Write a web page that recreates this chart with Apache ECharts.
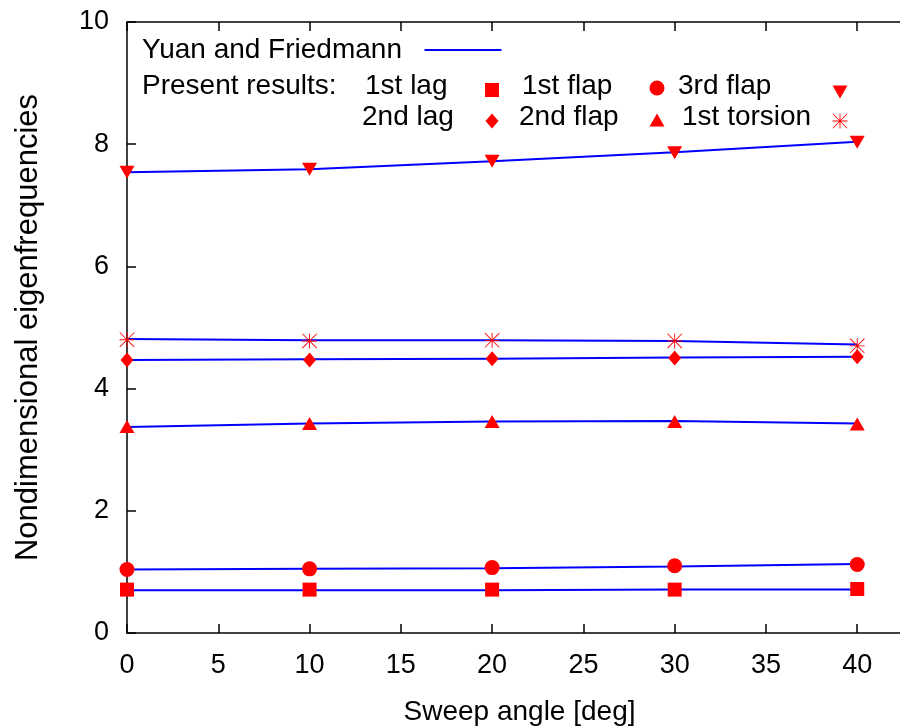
<!DOCTYPE html>
<html>
<head>
<meta charset="utf-8">
<script src="https://cdn.jsdelivr.net/npm/echarts@6/dist/echarts.min.js"></script>
<style>
  html, body { margin: 0; padding: 0; background: #fff; }
  #chart { width: 900px; height: 728px; }
</style>
</head>
<body>
<div id="chart"></div>
<script>
// sweep angle [deg]
const angles = [0, 10, 20, 30, 40];

// Yuan and Friedmann (reference lines)
const lag1Ref = [0.70, 0.70, 0.70, 0.71, 0.71];
const flap1Ref = [1.04, 1.05, 1.06, 1.09, 1.13];
const flap2Ref = [3.37, 3.43, 3.46, 3.47, 3.43];
const lag2Ref = [4.47, 4.48, 4.49, 4.51, 4.52];
const torsion1Ref = [4.81, 4.79, 4.79, 4.78, 4.72];
const flap3Ref = [7.54, 7.59, 7.72, 7.87, 8.04];

// present results (markers)
const lag1 = [0.71, 0.71, 0.71, 0.71, 0.72];
const flap1 = [1.04, 1.05, 1.07, 1.10, 1.12];
const flap2 = [3.38, 3.43, 3.46, 3.46, 3.42];
const lag2 = [4.47, 4.47, 4.49, 4.50, 4.52];
const torsion1 = [4.80, 4.78, 4.79, 4.78, 4.70];
const flap3 = [7.54, 7.59, 7.72, 7.86, 8.03];

const xTicks = [0, 5, 10, 15, 20, 25, 30, 35, 40];
const yTicks = [0, 2, 4, 6, 8, 10];

const FONT = 'Liberation Sans';
const RED = '#ff0000';
const BLUE = '#0000ff';

// asterisk built from thin bars (filled path)
const asterisk = 'path://M0 47L100 47L100 53L0 53Z M47 0L53 0L53 100L47 100Z M0 4L4 0L100 96L96 100Z M96 0L100 4L4 100L0 96Z';
const downTri = 'path://M0 0L100 0L50 86Z';

const pts = (ys) => angles.map((a, i) => [a, ys[i]]);

const refLines = [lag1Ref, flap1Ref, flap2Ref, lag2Ref, torsion1Ref, flap3Ref].map((ys) => ({
  name: 'Yuan and Friedmann',
  type: 'line',
  data: pts(ys),
  symbol: 'none',
  lineStyle: { color: BLUE, width: 2 },
  itemStyle: { color: BLUE },
  z: 2
}));

const present = [
  { name: '1st lag', data: lag1, symbol: 'rect', size: [14, 14] },
  { name: '1st flap', data: flap1, symbol: 'circle', size: 15 },
  { name: '3rd flap', data: flap3, symbol: downTri, size: [15, 13] },
  { name: '2nd lag', data: lag2, symbol: 'diamond', size: [13, 15] },
  { name: '2nd flap', data: flap2, symbol: 'triangle', size: [15, 13] },
  { name: '1st torsion', data: torsion1, symbol: asterisk, size: 15 }
].map((s) => ({
  name: s.name,
  type: 'scatter',
  data: pts(s.data),
  symbol: s.symbol,
  symbolSize: s.size,
  itemStyle: { color: RED, opacity: 1 },
  z: 3
}));

// legend keys: icon only, text drawn by graphic
function key(name, cx, cy, w, h, icon) {
  const k = {
    data: [name],
    left: cx - w / 2,
    top: cy - h / 2,
    padding: 0,
    itemGap: 0,
    itemWidth: w,
    itemHeight: h,
    selectedMode: false,
    formatter: function () { return ''; },
    textStyle: { fontSize: 1 }
  };
  if (icon) k.icon = icon;
  return k;
}

const legendText = [
  ['Yuan and Friedmann', 142, 50],
  ['Present results:', 142, 86],
  ['1st lag', 365, 86],
  ['1st flap', 522, 86],
  ['3rd flap', 678, 86],
  ['2nd lag', 362, 117],
  ['2nd flap', 519, 117],
  ['1st torsion', 682, 117]
];

const chart = echarts.init(document.getElementById('chart'));

chart.setOption({
  animation: false,
  backgroundColor: '#fff',
  textStyle: { fontFamily: FONT },
  grid: { left: 127, right: -12, top: 22, bottom: 95, outerBoundsMode: 'none', containLabel: false },
  legend: [
    key('Yuan and Friedmann', 463, 50, 77, 2, 'rect'),
    key('1st lag', 492, 90, 14, 14),
    key('1st flap', 657, 88, 15, 15),
    key('3rd flap', 840, 92, 15, 13),
    key('2nd lag', 492, 121, 13, 15),
    key('2nd flap', 657, 120, 15, 13),
    key('1st torsion', 840, 121, 15, 15)
  ],
  graphic: legendText.map((t) => ({
    type: 'text',
    left: t[1],
    top: t[2] - 14,
    style: { text: t[0], font: '28px "' + FONT + '"', fill: '#000' }
  })),
  xAxis: [
    {
      type: 'value',
      min: 0,
      max: 43,
      interval: 5,
      name: 'Sweep angle [deg]',
      nameLocation: 'middle',
      nameGap: 65,
      nameTextStyle: { fontSize: 28, color: '#000', fontFamily: FONT },
      axisLine: { show: true, lineStyle: { color: '#000', width: 1.5 } },
      axisTick: { inside: true, length: 9, lineStyle: { color: '#000', width: 1.5 } },
      axisLabel: {
        margin: 19,
        fontSize: 27,
        color: '#000',
        showMaxLabel: false,
        formatter: (v) => (xTicks.includes(v) ? String(v) : '')
      },
      splitLine: { show: false }
    },
    {
      type: 'value',
      position: 'top',
      min: 0,
      max: 43,
      interval: 5,
      axisLine: { show: true, lineStyle: { color: '#000', width: 1.5 } },
      axisTick: { inside: true, length: 9, lineStyle: { color: '#000', width: 1.5 } },
      axisLabel: { show: false },
      splitLine: { show: false }
    }
  ],
  yAxis: {
    type: 'value',
    min: 0,
    max: 10,
    interval: 2,
    name: 'Nondimensional eigenfrequencies',
    nameLocation: 'middle',
    nameGap: 83,
    nameTextStyle: { fontSize: 31, color: '#000', fontFamily: FONT },
    axisLine: { show: true, lineStyle: { color: '#000', width: 1.5 } },
    axisTick: { show: true, inside: true, length: 9, lineStyle: { color: '#000', width: 1.5 } },
    axisLabel: {
      margin: 18,
      fontSize: 27,
      color: '#000',
      formatter: (v) => (yTicks.includes(v) ? String(v) : '')
    },
    splitLine: { show: false }
  },
  series: refLines.concat(present)
});
</script>
</body>
</html>
